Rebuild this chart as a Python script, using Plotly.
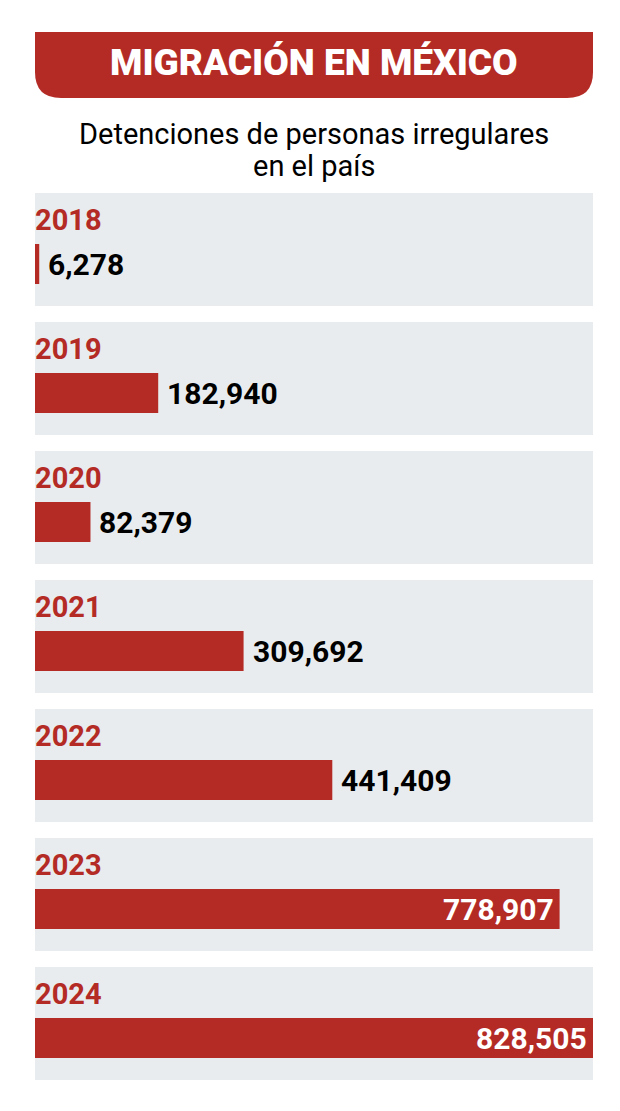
import plotly.graph_objects as go

years = ["2018", "2019", "2020", "2021", "2022", "2023", "2024"]
detenciones = [6278, 182940, 82379, 309692, 441409, 778907, 828505]
etiquetas = ["6,278", "182,940", "82,379", "309,692", "441,409", "778,907", "828,505"]

titulo = "MIGRACIÓN EN MÉXICO"
subtitulo = ["Detenciones de personas irregulares", "en el país"]

RED = "#b42b25"
GRAY = "#e9ecef"
OFF = 8  # page body margin
W, H = 620 - OFF, 1111 - OFF

# page pixel -> paper coords (layout only)
def px(x):
    return (x - OFF) / W

def py(y):
    return 1 - (y - OFF) / H

idx = list(range(len(years)))
pitch = 129.0
c0 = 264 - OFF  # centre of first bar, figure pixels

fig = go.Figure()
fig.add_trace(go.Bar(
    x=detenciones,
    y=idx,
    orientation="h",
    marker=dict(color=RED, line=dict(width=0)),
    width=40 / pitch,
    hoverinfo="skip",
))

# gray panels behind each year
for i in idx:
    fig.add_shape(type="rect", xref="x domain", yref="y",
                  x0=0, x1=1, y0=i - 71 / pitch, y1=i + 42 / pitch,
                  fillcolor=GRAY, line=dict(width=0), layer="below")

# header banner with rounded bottom corners
x0, x1, y0, y1, r = 35, 593, 32, 98, 26
path = (f"M {px(x0)},{py(y0)} L {px(x1)},{py(y0)} L {px(x1)},{py(y1 - r)} "
        f"Q {px(x1)},{py(y1)} {px(x1 - r)},{py(y1)} L {px(x0 + r)},{py(y1)} "
        f"Q {px(x0)},{py(y1)} {px(x0)},{py(y1 - r)} Z")
fig.add_shape(type="path", xref="paper", yref="paper", path=path,
              fillcolor=RED, line=dict(width=0))

fig.add_annotation(text=titulo, xref="paper", yref="paper",
                   x=px(314), y=py(63), xanchor="center", yanchor="middle",
                   showarrow=False,
                   font=dict(family="Roboto", size=37, color="white", weight=900))
for k, line in enumerate(subtitulo):
    fig.add_annotation(text=line, xref="paper", yref="paper",
                       x=px(314), y=py(134 + 32 * k), xanchor="center",
                       yanchor="middle", showarrow=False,
                       font=dict(family="Roboto", size=29, color="black"))

vmax = max(detenciones)
for i, (yr, v, lab) in enumerate(zip(years, detenciones, etiquetas)):
    fig.add_annotation(text=f"<b>{yr}</b>", x=0, y=i - 44 / pitch,
                       xanchor="left", yanchor="middle", showarrow=False,
                       xshift=-2,
                       font=dict(family="Roboto", size=29, color=RED))
    inside = v > 0.8 * vmax
    fig.add_annotation(text=f"<b>{lab}</b>", x=v, y=i,
                       xanchor="right" if inside else "left",
                       xshift=-4 if inside else 7,
                       yanchor="middle", showarrow=False,
                       font=dict(family="Roboto", size=30,
                                 color="white" if inside else "black"))

fig.update_layout(
    width=W, height=H,
    margin=dict(l=0, r=0, t=0, b=0),
    paper_bgcolor="white", plot_bgcolor="white",
    showlegend=False,
    xaxis=dict(domain=[px(35), px(593)], range=[0, vmax], visible=False),
    yaxis=dict(domain=[0, 1], range=[(H - c0) / pitch, -c0 / pitch],
               visible=False),
)

fig.write_html("out.html")
